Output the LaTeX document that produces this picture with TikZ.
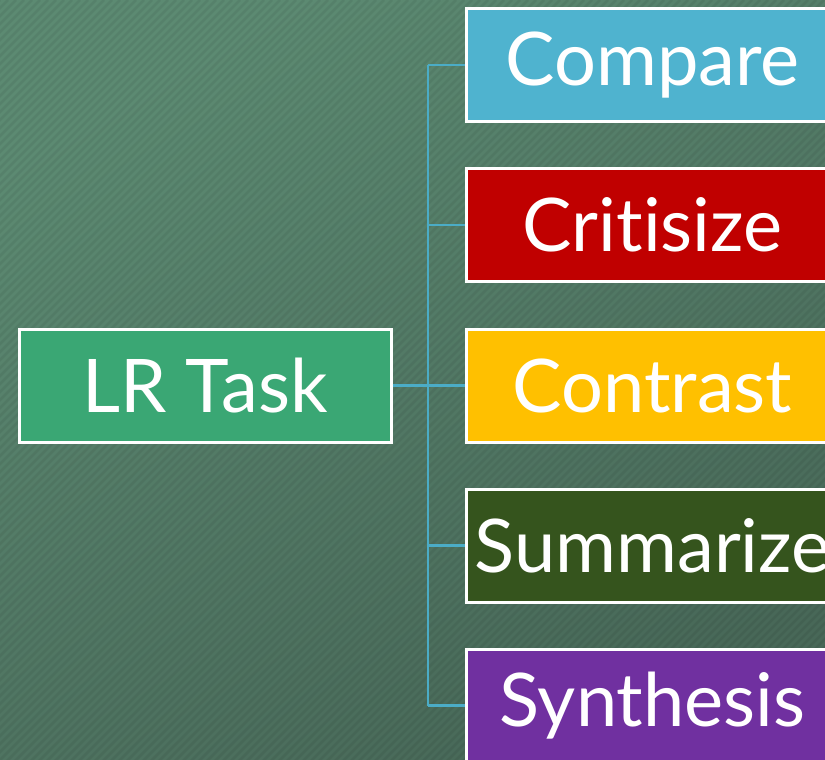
\documentclass[tikz,border=0pt]{standalone}
\usepackage{fontspec}
\setmainfont{Lato}[Ligatures={NoCommon,NoRare}]
\usetikzlibrary{calc}

\definecolor{bgtop}{RGB}{92,138,114}
\definecolor{bgbottom}{RGB}{72,104,88}
\definecolor{linkblue}{RGB}{75,172,198}
\definecolor{taskgreen}{RGB}{58,167,116}
\definecolor{compareblue}{RGB}{79,179,207}
\definecolor{criticred}{RGB}{192,0,0}
\definecolor{contrastgold}{RGB}{255,192,0}
\definecolor{summarygreen}{RGB}{53,84,29}
\definecolor{synthpurple}{RGB}{112,48,160}

\tikzset{
  taskbox/.style={draw=white, line width=3pt, text=white, minimum width=372pt,
    minimum height=113pt, inner sep=0pt, font=\fontsize{74}{88}\selectfont},
  link/.style={draw=linkblue, line width=2.6pt},
  stripe/.style={line width=2.5pt, draw=black, opacity=0.06}
}

\begin{document}
\begin{tikzpicture}[x=1pt, y=-1pt]
			%%%%% START %%%%%
			
			\useasboundingbox (0, 0) rectangle (825, 760);
			\shade[top color=bgtop, bottom color=bgbottom, shading angle=30] (0, 0) rectangle (825, 760);
			\begin{scope}
				\clip (0, 0) rectangle (825, 760);
				\foreach \i in {0,8,...,1600}
					\draw[stripe] (\i, 0) -- ++(-800, 800);
			\end{scope}
			
			\node[taskbox, fill=taskgreen] (task) at (205, 385.5) {LR Task};
			
			\node[taskbox, fill=compareblue] (compare) at (652.5, 65) {Compare};
			\node[taskbox, fill=criticred] (critisize) at (652.5, 225) {Critisize};
			\node[taskbox, fill=contrastgold] (contrast) at (652.5, 385.5) {Contrast};
			\node[taskbox, fill=summarygreen] (summarize) at (652.5, 545.5) {Summarize};
			\node[taskbox, fill=synthpurple] (synthesis) at (652.5, 705.5) {Synthesis};
			
			\coordinate (trunk) at (428, 385.5);
			\draw[link] (task.east) -- (trunk);
			\draw[link] (trunk |- compare.west) -- (trunk |- synthesis.west);
			\foreach \n in {compare, critisize, contrast, summarize, synthesis}
				\draw[link] (trunk |- \n.west) -- (\n.west);
			
			%%%%% END %%%%%
\end{tikzpicture}
\end{document}
